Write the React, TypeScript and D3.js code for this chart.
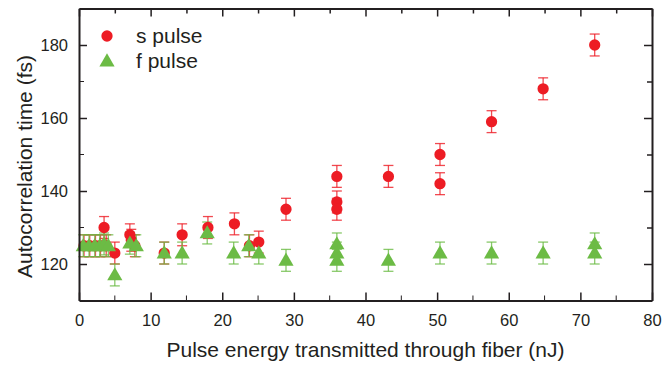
import React, { useEffect, useRef } from 'react';
import * as d3 from 'd3';

// s pulse (red circles)
const sEnergy = [0.7, 1.5, 2.3, 3.0, 3.8, 3.5, 5.0, 7.1, 7.3, 7.8, 11.9, 14.4, 18.0, 21.7, 23.8, 25.1, 28.9, 36.0, 36.0, 36.0, 43.2, 50.4, 50.4, 57.6, 64.8, 72.0];
const sTime = [125, 125, 125, 125, 125, 130, 123, 128, 126.5, 125, 123, 128, 130, 131, 125, 126, 135, 144, 137, 135, 144, 150, 142, 159, 168, 180];
const sErr = [3, 3, 3, 3, 3, 3, 3, 3, 3, 3, 3, 3, 3, 3, 3, 3, 3, 3, 3, 3, 3, 3, 3, 3, 3, 3];

// f pulse (green triangles)
const fEnergy = [0.6, 1.4, 2.2, 2.9, 3.5, 4.1, 5.0, 7.1, 8.0, 11.9, 14.4, 17.9, 21.6, 23.7, 25.1, 28.9, 36.0, 36.0, 36.0, 43.2, 50.4, 57.6, 64.8, 72.0, 72.0];
const fTime = [125, 125, 125, 125, 125.5, 125, 117, 125.7, 125, 123, 123, 128.5, 123, 125, 123, 121, 125.5, 123, 121, 121, 123, 123, 123, 125.5, 123];
const fErr = [3, 3, 3, 3, 3, 3, 3, 3, 3, 3, 3, 3, 3, 3, 3, 3, 3, 3, 3, 3, 3, 3, 3, 3, 3];

const xTicks = [0, 10, 20, 30, 40, 50, 60, 70, 80];
const yTicks = [120, 140, 160, 180];

const RED = '#ed1c24';
const GREEN = '#6cbb45';
const INK = '#231f20';
const FONT = '"Liberation Sans", Arial, sans-serif';

const App = () => {
  const chart = useRef(null);
  const width = 663;
  const height = 366;
  const margin = { top: 8.5, right: 11, bottom: 65.5, left: 79 };

  const x = d3.scaleLinear()
    .domain([0, 80])
    .range([margin.left, width - margin.right]);
  const y = d3.scaleLinear()
    .domain([110, 190])
    .range([height - margin.bottom, margin.top]);

  const drawChart = () => {
    const svg = d3.select(chart.current)
      .attr('viewBox', [0, 0, width, height])
      .style('font-family', FONT);
    svg.selectAll('*').remove();

    const s = sEnergy.map((e, i) => ({ x: e, y: sTime[i], err: sErr[i] }));
    const f = fEnergy.map((e, i) => ({ x: e, y: fTime[i], err: fErr[i] }));

    const errBars = (data, color) => {
      const g = svg.append('g')
        .attr('stroke', color)
        .attr('stroke-width', 1.3)
        .attr('stroke-opacity', 0.8)
        .selectAll('g')
        .data(data)
        .join('g');
      g.append('line')
        .attr('x1', d => x(d.x)).attr('x2', d => x(d.x))
        .attr('y1', d => y(d.y - d.err)).attr('y2', d => y(d.y + d.err));
      g.append('line')
        .attr('x1', d => x(d.x) - 5).attr('x2', d => x(d.x) + 5)
        .attr('y1', d => y(d.y + d.err)).attr('y2', d => y(d.y + d.err));
      g.append('line')
        .attr('x1', d => x(d.x) - 5).attr('x2', d => x(d.x) + 5)
        .attr('y1', d => y(d.y - d.err)).attr('y2', d => y(d.y - d.err));
    };

    errBars(s, RED);
    errBars(f, GREEN);

    const circle = d3.symbol(d3.symbolCircle, 100);
    const tri = d3.symbol(d3.symbolTriangle, 100);

    svg.append('g')
      .selectAll('path')
      .data(s)
      .join('path')
      .attr('d', circle)
      .attr('fill', RED)
      .attr('transform', d => `translate(${x(d.x)},${y(d.y)})`);

    svg.append('g')
      .selectAll('path')
      .data(f)
      .join('path')
      .attr('d', tri)
      .attr('fill', GREEN)
      .attr('transform', d => `translate(${x(d.x)},${y(d.y) + 1})`);

    // axes: ticks point inward, box all round
    const x0 = margin.left;
    const x1 = width - margin.right;
    const y0 = height - margin.bottom;
    const y1 = margin.top;

    const bottom = svg.append('g')
      .attr('transform', `translate(0,${y0})`)
      .call(d3.axisBottom(x).tickValues(xTicks).tickSizeInner(-8).tickSizeOuter(0).tickPadding(14));
    bottom.append('g').call(g => g.selectAll('line')
      .data(d3.range(5, 80, 10))
      .join('line')
      .attr('x1', d => x(d)).attr('x2', d => x(d))
      .attr('y1', 0).attr('y2', -5)
      .attr('stroke', INK));

    const top = svg.append('g')
      .attr('transform', `translate(0,${y1})`)
      .call(d3.axisTop(x).tickValues(d3.range(0, 81, 5)).tickSizeInner(-8).tickSizeOuter(0).tickFormat(() => ''));
    top.selectAll('.tick line')
      .attr('y2', d => (d % 10 === 0 ? 8 : 5));

    const left = svg.append('g')
      .attr('transform', `translate(${x0},0)`)
      .call(d3.axisLeft(y).tickValues(yTicks).tickSizeInner(-8).tickSizeOuter(0).tickPadding(11));
    left.append('g').call(g => g.selectAll('line')
      .data([130, 150, 170])
      .join('line')
      .attr('y1', d => y(d)).attr('y2', d => y(d))
      .attr('x1', 0).attr('x2', 5)
      .attr('stroke', INK));

    const right = svg.append('g')
      .attr('transform', `translate(${x1},0)`)
      .call(d3.axisRight(y).tickValues(d3.range(120, 181, 10)).tickSizeInner(-8).tickSizeOuter(0).tickFormat(() => ''));
    right.selectAll('.tick line')
      .attr('x2', d => (d % 20 === 0 ? -8 : -5));

    [bottom, top, left, right].forEach(g => {
      g.select('.domain').attr('stroke', INK).attr('stroke-width', 2);
      g.selectAll('.tick line').attr('stroke', INK).attr('stroke-width', 1.5);
      g.selectAll('.tick text')
        .attr('fill', INK)
        .style('font-size', '16.5px')
        .style('font-family', FONT);
    });
    left.selectAll('.tick text').attr('dy', '0.36em');

    svg.append('text')
      .attr('x', (x0 + x1) / 2)
      .attr('y', 357)
      .attr('text-anchor', 'middle')
      .attr('fill', INK)
      .style('font-size', '21px')
      .text('Pulse energy transmitted through fiber (nJ)');

    svg.append('text')
      .attr('transform', `translate(32,${(y0 + y1) / 2 + 12}) rotate(-90)`)
      .attr('text-anchor', 'middle')
      .attr('fill', INK)
      .style('font-size', '21px')
      .text('Autocorrelation time (fs)');

    // legend
    const legend = svg.append('g');
    legend.append('path')
      .attr('d', d3.symbol(d3.symbolCircle, 100)())
      .attr('fill', RED)
      .attr('transform', 'translate(107,36)');
    legend.append('path')
      .attr('d', d3.symbol(d3.symbolTriangle, 100)())
      .attr('fill', GREEN)
      .attr('transform', 'translate(107,62)');
    legend.append('text')
      .attr('x', 136).attr('y', 43)
      .attr('fill', INK)
      .style('font-size', '21px')
      .text('s pulse');
    legend.append('text')
      .attr('x', 136).attr('y', 68)
      .attr('fill', INK)
      .style('font-size', '21px')
      .text('f pulse');
  };

  useEffect(() => {
    document.body.style.margin = '0';
    drawChart();
  }, []);

  return (
    <svg ref={chart} width={width} height={height} style={{ display: 'block', background: '#fff' }} />
  );
};

export default App;
